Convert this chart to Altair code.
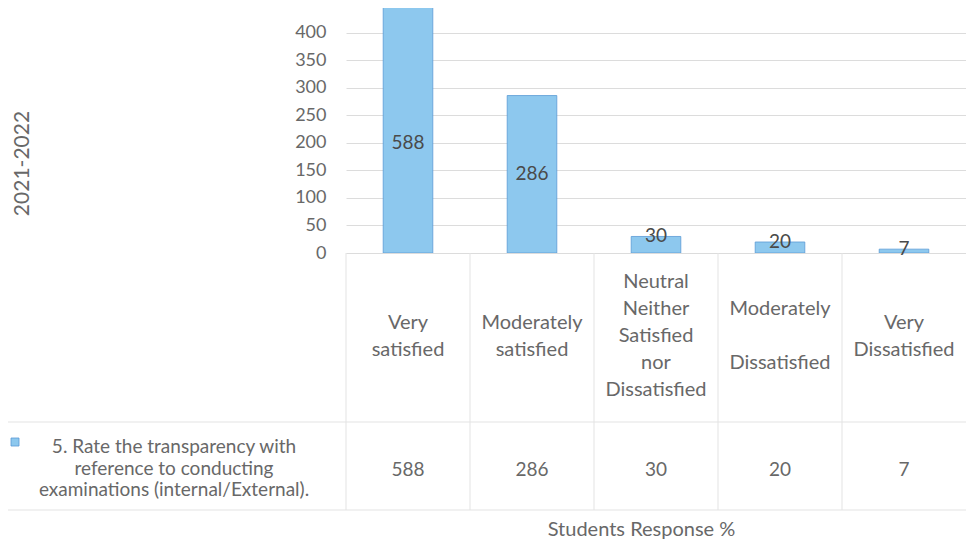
import altair as alt
import pandas as pd

# ---- data ----
categories = ["Very satisfied", "Moderately satisfied",
              "Neutral Neither Satisfied nor Dissatisfied",
              "Moderately Dissatisfied", "Very Dissatisfied"]
header_labels = ["Very\nsatisfied", "Moderately\nsatisfied",
                 "Neutral\nNeither\nSatisfied\nnor\nDissatisfied",
                 "Moderately\n\u200b\nDissatisfied", "Very\nDissatisfied"]
values = [588, 286, 30, 20, 7]
series_name = "5. Rate the transparency with\nreference to conducting\nexaminations (internal/External)."
y_title = "2021-2022"
x_title = "Students Response %"
y_ticks = [0, 50, 100, 150, 200, 250, 300, 350, 400]

# ---- layout / style ----
W, H = 620, 245
Y_MAX = 445
FONT = "Lato"
TXT = "#686868"
BAR_FILL = "#8DC8EE"
BAR_STROKE = "#5B9BD5"
GRID = "#dcdcdc"
TABLE_LINE = "#e3e3e3"
HEAD_CENTER = 328      # vertical centre of the category header cell (plot coords)
HEAD_LH = 27

df = pd.DataFrame({"category": categories, "header": header_labels, "value": values})
row_df = pd.DataFrame({"series": [series_name]})

x_enc = alt.X("category:N", sort=categories,
              scale=alt.Scale(domain=categories, paddingInner=0, paddingOuter=0),
              axis=alt.Axis(labels=False, ticks=False, domain=True, domainColor=GRID,
                            title=x_title, titleFont=FONT, titleFontSize=20,
                            titleFontWeight="normal", titleColor=TXT,
                            titleX=295, titleY=276, titleBaseline="middle"))

y_axis = alt.Axis(values=y_ticks, grid=True, gridColor=GRID, domain=False, ticks=False,
                  labelPadding=20, labelFont=FONT, labelFontSize=18, labelColor=TXT,
                  title=y_title, titleFont=FONT, titleFontSize=21, titleFontWeight="normal",
                  titleColor=TXT, titleX=-324, titleY=155, titleBaseline="middle")
y_scale = alt.Scale(domain=[0, Y_MAX], nice=False, zero=True)

base = alt.Chart(df)

bars = base.mark_bar(color=BAR_FILL, stroke=BAR_STROKE, strokeWidth=0.8, clip=True,
                     width=alt.RelativeBandSize(0.4)).encode(
    x=x_enc,
    y=alt.Y("value:Q", scale=y_scale, axis=y_axis),
)

bar_labels = base.transform_calculate(
    pos="datum.value > 100 ? min(datum.value, 400) / 2 : datum.value"
).mark_text(font=FONT, fontSize=19, color="#4a4a4a", baseline="middle").encode(
    x=alt.X("category:N", sort=categories),
    y=alt.Y("pos:Q", scale=y_scale, axis=y_axis),
    text=alt.Text("value:Q"),
)

# data table: vertical cell borders
v_lines = base.mark_rule(color=TABLE_LINE, strokeWidth=1).encode(
    x=alt.X("category:N", sort=categories, bandPosition=0),
    y=alt.value(H),
    y2=alt.value(502),
)
h_lines = alt.Chart(pd.DataFrame({"row": ["mid", "bottom"], "yy": [414, 502]})).mark_rule(
    color=TABLE_LINE, strokeWidth=1).encode(
    x=alt.value(-338), x2=alt.value(W), y=alt.Y("yy:Q", scale=None),
)

headers = base.transform_calculate(
    ypix=f"{HEAD_CENTER} - (length(split(datum.header, '\\n')) - 1) * {HEAD_LH} / 2"
).mark_text(font=FONT, fontSize=20, color=TXT, lineBreak="\n",
            lineHeight=HEAD_LH, baseline="middle", align="center").encode(
    x=alt.X("category:N", sort=categories),
    y=alt.Y("ypix:Q", scale=None),
    text="header:N",
)

table_vals = base.mark_text(font=FONT, fontSize=19, color=TXT, baseline="middle").encode(
    x=alt.X("category:N", sort=categories),
    y=alt.value(462),
    text=alt.Text("value:Q"),
)

row_label = alt.Chart(row_df).mark_text(font=FONT, fontSize=19, color=TXT, lineBreak="\n",
                                        lineHeight=21.5, baseline="middle", align="center").encode(
    x=alt.value(-172), y=alt.value(439), text="series:N",
)
legend_sq = alt.Chart(row_df).mark_square(size=64, color=BAR_FILL, stroke=BAR_STROKE,
                                          strokeWidth=0.8, opacity=1).encode(
    x=alt.value(-331), y=alt.value(434),
)

chart = alt.layer(h_lines, v_lines, bars, bar_labels, headers, table_vals, row_label, legend_sq).properties(
    width=W, height=H,
    autosize=alt.AutoSizeParams(type="none"),
    padding={"left": 338, "top": 0, "right": 0, "bottom": 292},
    background="white",
).configure_view(stroke=None)

chart.save("out.html", embed_options={"renderer": "svg", "actions": False})
